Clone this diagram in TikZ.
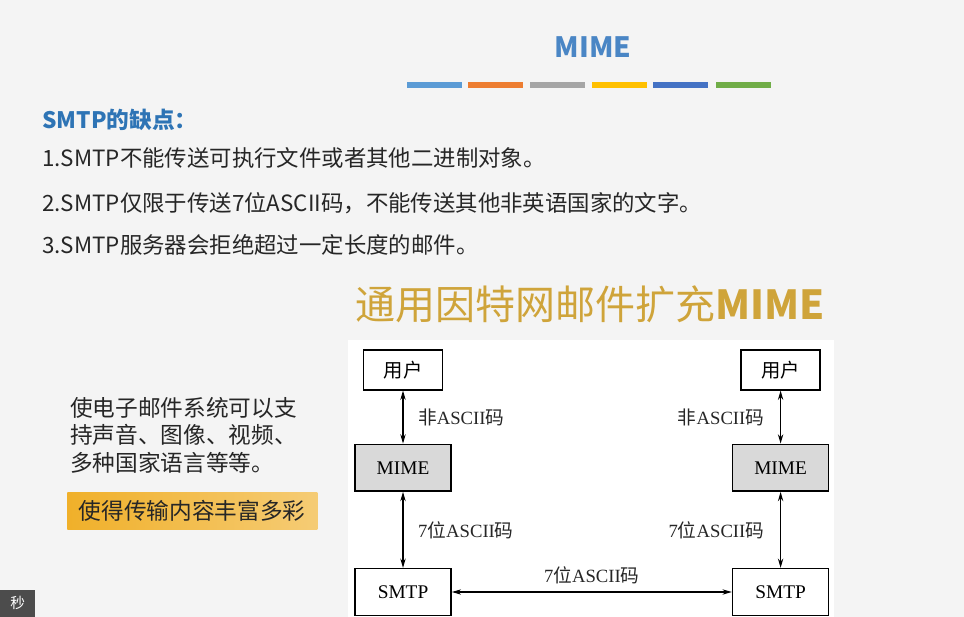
\documentclass[tikz,border=0pt]{standalone}
\usepackage{fontspec}
\setmainfont{Noto Sans CJK SC}
\newfontfamily\serifrm{Liberation Serif}
\newfontfamily\cjk{Noto Sans CJK SC}
\newcommand{\zh}[1]{{\cjk #1}}
\usepackage{xcolor}
\usepackage{tikz}
\usetikzlibrary{positioning, arrows.meta}

\definecolor{bggray}{HTML}{F4F4F4}
\definecolor{titleblue}{HTML}{4A86C5}
\definecolor{headblue}{HTML}{2E74B5}
\definecolor{textgray}{HTML}{262626}
\definecolor{titlegold}{HTML}{CFA43A}
\definecolor{boxgold}{HTML}{F0B02A}
\definecolor{boxgray}{HTML}{D9D9D9}
\definecolor{barA}{HTML}{5B9BD5}
\definecolor{barB}{HTML}{ED7D31}
\definecolor{barC}{HTML}{A5A5A5}
\definecolor{barD}{HTML}{FFC000}
\definecolor{barE}{HTML}{4472C4}
\definecolor{barF}{HTML}{70AD47}

\begin{document}
\begin{tikzpicture}[
    x=0.75pt, y=-0.75pt,
    node distance=40pt,
    box/.style={
        draw,
        line width=1.2pt,
        fill=white,
        inner sep=0pt,
        minimum width=59pt,
        minimum height=30pt,
        font=\serifrm\fontsize{14.5}{16}\selectfont
    },
    wbox/.style={box, minimum width=72pt, minimum height=35pt},
    gbox/.style={wbox, fill=boxgray},
    lbl/.style={inner sep=0pt, font=\serifrm\fontsize{14}{16}\selectfont, text=textgray},
    arrow/.style={{Stealth[length=7pt,width=4pt]}-{Stealth[length=7pt,width=4pt]}, line width=0.8pt},
    bar/.style={line width=4.5pt},
    item/.style={anchor=west, inner sep=0pt, font=\fontsize{16.8}{19}\selectfont, text=textgray}
]
\useasboundingbox (0,0) rectangle (964,617);

% --- Fondo ---
\fill[bggray] (0,0) rectangle (964,617);
\fill[white] (348,340) rectangle (834,617);

% --- Titulo y barras ---
\node[font=\bfseries\fontsize{21}{24}\selectfont, text=titleblue] (title) at (593,47) {MIME};
\foreach \xs/\col in {407/barA, 468/barB, 530/barC, 592/barD, 653/barE, 716/barF}
    \draw[bar, \col] (\xs,85) -- ++(55,0);

% --- Desventajas de SMTP ---
\node[item, font=\bfseries\fontsize{17}{20}\selectfont, text=headblue] (head) at (42,120) {SMTP的缺点：};
\node[item] (itemA) at (42,158) {1.SMTP不能传送可执行文件或者其他二进制对象。};
\node[item] (itemB) at (42,203) {2.SMTP仅限于传送7位ASCII码，不能传送其他非英语国家的文字。};
\node[item] (itemC) at (42,245) {3.SMTP服务器会拒绝超过一定长度的邮件。};

% --- Titulo dorado ---
\node[font=\fontsize{30}{34}\selectfont, text=titlegold] (gold) at (590,304)
    {通用因特网邮件扩充\textbf{MIME}};

% --- Texto lateral ---
\node[anchor=north west, inner sep=0pt, align=left, text=textgray,
      font=\fontsize{17}{20.5}\selectfont] (desc) at (70,397)
    {使电子邮件系统可以支\\持声音、图像、视频、\\多种国家语言等等。};
\node[anchor=north west, inner sep=0pt, minimum width=187.5pt, minimum height=27.75pt,
      left color=boxgold, middle color=boxgold!30, right color=boxgold!65,
      font=\fontsize{17}{20}\selectfont, text=textgray] (rich) at (67,492)
    {使得传输内容丰富多彩};

% --- Nodos del diagrama ---
\node[wbox] (smtpA) at (403,592) {SMTP};
\node[gbox, above=57pt of smtpA] (mimeA) {MIME};
\node[box, above=39.75pt of mimeA] (userA) {\zh{用户}};

\node[wbox, right=210pt of smtpA] (smtpB) {SMTP};
\node[gbox, above=57pt of smtpB] (mimeB) {MIME};
\node[box, above=39.75pt of mimeB] (userB) {\zh{用户}};

% --- Flechas ---
\draw[arrow] (userA) -- node[lbl, right=11pt] {\zh{非}ASCII\zh{码}} (mimeA);
\draw[arrow] (mimeA) -- node[lbl, right=11pt] {7\zh{位}ASCII\zh{码}} (smtpA);
\draw[arrow] (userB) -- node[lbl, left=12pt] {\zh{非}ASCII\zh{码}} (mimeB);
\draw[arrow] (mimeB) -- node[lbl, left=12pt] {7\zh{位}ASCII\zh{码}} (smtpB);
\draw[arrow] (smtpA) -- node[lbl, above=6pt] {7\zh{位}ASCII\zh{码}} (smtpB);

% --- Esquina ---
\node[anchor=south west, fill=black!70, text=white, minimum width=26.25pt, minimum height=20pt,
      inner sep=0pt, font=\fontsize{11}{12}\selectfont] (sec) at (0,617) {秒};

\end{tikzpicture}
\end{document}
